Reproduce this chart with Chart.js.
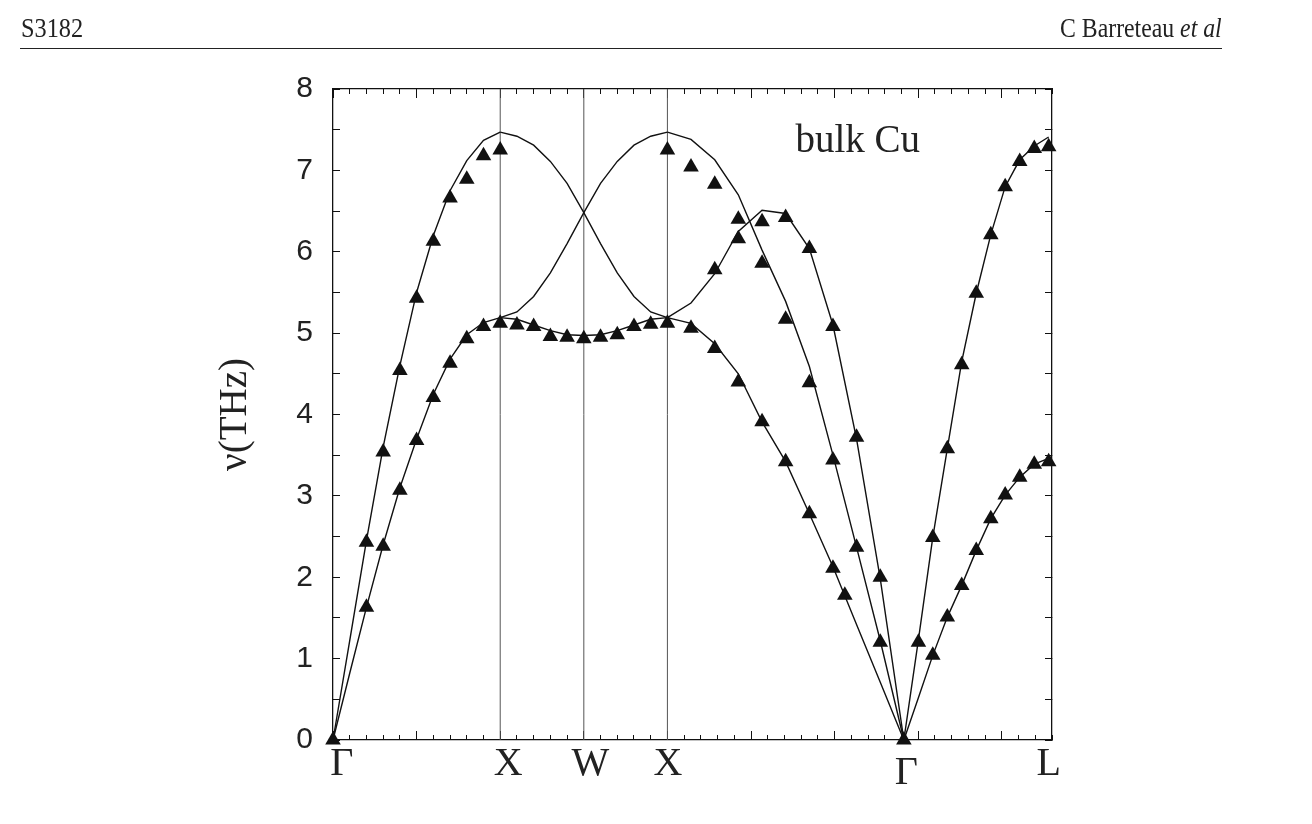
<!DOCTYPE html>
<html>
<head>
<meta charset="utf-8">
<title>bulk Cu phonons</title>
<script src="https://cdn.jsdelivr.net/npm/chart.js@4.4.1/dist/chart.umd.min.js"></script>
<style>
    html, body { margin: 0; padding: 0; background: #fff; }
    #wrap { position: relative; width: 1312px; height: 824px; overflow: hidden; }
    #chart { position: absolute; left: 0; top: 0; }
    .hdr { position: absolute; top: 15px; font-family: 'Liberation Serif', serif; font-size: 27px; line-height: 27px; color: #222; white-space: nowrap; }
    #hdr-left { left: 21px; transform: scaleX(0.9); transform-origin: left center; }
    #hdr-right { right: 90px; transform: scaleX(0.88); transform-origin: right center; }
    #rule { position: absolute; left: 20px; width: 1202px; top: 48px; height: 0; border-top: 1.5px solid #222; }
</style>
</head>
<body>
<div id="wrap">
    <canvas id="chart" width="1312" height="824"></canvas>
    <div class="hdr" id="hdr-left">S3182</div>
    <div class="hdr" id="hdr-right">C Barreteau <i>et al</i></div>
    <div id="rule"></div>
</div>
<script>
// Path labels (units of 2pi/a along G-X-W-X-G-L)
const symLabels = ['Γ', 'X', 'W', 'X', 'Γ', 'L'];
const symLabelPos = [0.052, 1.048, 1.539, 2.003, 3.429, 4.281];
const zoneLines = [1, 1.5, 2];
const panelLabel = 'bulk Cu';
const yTitle = 'ν(THz)';

// q positions of the sampled points on each segment
const qGX  = [0, 0.1, 0.2, 0.3, 0.4, 0.5, 0.6, 0.7, 0.8, 0.9, 1.0];
const qXWX = [1.0, 1.1, 1.2, 1.3, 1.4, 1.5, 1.6, 1.7, 1.8, 1.9, 2.0];
const qXG  = [2.0, 2.141, 2.283, 2.424, 2.566, 2.707, 2.849, 2.99, 3.131, 3.273, 3.414];
const qGL  = [3.414, 3.501, 3.587, 3.674, 3.76, 3.847, 3.934, 4.02, 4.107, 4.194, 4.28];

// calculated branches (solid lines), THz
const calcGX_L  = [0, 1.22, 2.45, 3.6, 4.6, 5.5, 6.2, 6.75, 7.12, 7.37, 7.47];
const calcGX_T  = [0, 0.82, 1.63, 2.4, 3.1, 3.7, 4.25, 4.68, 4.98, 5.13, 5.19];
const calcXWX_1 = [7.47, 7.42, 7.31, 7.11, 6.84, 6.48, 6.10, 5.74, 5.45, 5.26, 5.19];
const calcXWX_2 = [5.19, 5.26, 5.45, 5.74, 6.10, 6.48, 6.84, 7.11, 7.31, 7.42, 7.47];
const calcXWX_3 = [5.19, 5.17, 5.10, 5.03, 4.98, 4.97, 4.98, 5.03, 5.10, 5.17, 5.19];
const calcXG_1  = [7.47, 7.38, 7.13, 6.70, 6.02, 5.39, 4.59, 3.50, 2.37, 1.22, 0];
const calcXG_2  = [5.19, 5.37, 5.73, 6.25, 6.51, 6.47, 6.04, 5.10, 3.70, 1.98, 0];
const calcXG_3  = [5.19, 5.12, 4.87, 4.50, 3.91, 3.42, 2.78, 2.13, 1.42, 0.71, 0];
const calcGL_L  = [0, 1.23, 2.49, 3.58, 4.65, 5.49, 6.21, 6.80, 7.13, 7.30, 7.41];
const calcGL_T  = [0, 0.52, 1.04, 1.51, 1.90, 2.33, 2.72, 3.01, 3.23, 3.39, 3.46];

// measured points (triangles)
const expGX_Lq = [0, 0.2, 0.3, 0.4, 0.5, 0.6, 0.7, 0.8, 0.9, 1.0];
const expGX_L  = [0, 2.43, 3.54, 4.54, 5.43, 6.13, 6.66, 6.89, 7.18, 7.25];
const expGX_Tq = [0.2, 0.3, 0.4, 0.5, 0.6, 0.7, 0.8, 0.9, 1.0];
const expGX_T  = [1.63, 2.38, 3.07, 3.68, 4.21, 4.63, 4.93, 5.08, 5.12];
const expXWXq  = [1.1, 1.2, 1.3, 1.4, 1.5, 1.6, 1.7, 1.8, 1.9, 2.0];
const expXWX   = [5.10, 5.08, 4.96, 4.95, 4.93, 4.95, 4.98, 5.08, 5.11, 5.12];
const expXG_1q = [2.0, 2.141, 2.283, 2.424, 2.566, 2.707, 2.849, 2.99, 3.131, 3.273, 3.414];
const expXG_1  = [7.25, 7.04, 6.83, 6.40, 5.86, 5.17, 4.39, 3.44, 2.37, 1.20, 0];
const expXG_2q = [2.283, 2.424, 2.566, 2.707, 2.849, 2.99, 3.131, 3.273];
const expXG_2  = [5.78, 6.16, 6.37, 6.42, 6.04, 5.08, 3.72, 2.00];
const expXG_3q = [2.141, 2.283, 2.424, 2.566, 2.707, 2.849, 2.99, 3.061];
const expXG_3  = [5.06, 4.81, 4.40, 3.91, 3.42, 2.78, 2.11, 1.78];
const expGL_Lq = [3.501, 3.587, 3.674, 3.76, 3.847, 3.934, 4.02, 4.107, 4.194, 4.28];
const expGL_L  = [1.20, 2.49, 3.58, 4.61, 5.49, 6.21, 6.80, 7.11, 7.27, 7.29];
const expGL_Tq = [3.587, 3.674, 3.76, 3.847, 3.934, 4.02, 4.107, 4.194, 4.28];
const expGL_T  = [1.04, 1.51, 1.90, 2.33, 2.72, 3.01, 3.23, 3.39, 3.42];

const INK = '#111';

function toXY(q, v) {
    return q.map((x, i) => ({ x: x, y: v[i] }));
}

const datasets = [];

[[qGX, calcGX_L], [qGX, calcGX_T],
 [qXWX, calcXWX_1], [qXWX, calcXWX_2], [qXWX, calcXWX_3],
 [qXG, calcXG_1], [qXG, calcXG_2], [qXG, calcXG_3],
 [qGL, calcGL_L], [qGL, calcGL_T]].forEach(([q, v]) => {
    datasets.push({
        data: toXY(q, v),
        showLine: true,
        borderColor: INK,
        borderWidth: 1.4,
        pointRadius: 0,
        tension: 0,
        fill: false,
        order: 1
    });
});

[[expGX_Lq, expGX_L], [expGX_Tq, expGX_T], [expXWXq, expXWX],
 [expXG_1q, expXG_1], [expXG_2q, expXG_2], [expXG_3q, expXG_3],
 [expGL_Lq, expGL_L], [expGL_Tq, expGL_T]].forEach(([q, v]) => {
    datasets.push({
        data: toXY(q, v),
        showLine: false,
        pointStyle: 'triangle',
        pointRadius: 9,
        backgroundColor: INK,
        borderColor: INK,
        borderWidth: 0,
        order: 0
    });
});

// vertical lines at X, W, X
zoneLines.forEach(q => {
    datasets.push({
        data: [{ x: q, y: 0 }, { x: q, y: 8 }],
        showLine: true,
        borderColor: '#555',
        borderWidth: 1,
        pointRadius: 0,
        order: 2
    });
});

// inner tick marks only, no labels, zero size
function tickAxis(axis, position, step, len, border, max) {
    return {
        type: 'linear',
        axis: axis,
        position: position,
        min: 0,
        max: max,
        weight: 0,
        border: { display: border, color: INK, width: 1.3 },
        grid: { display: true, drawOnChartArea: false, drawTicks: true, tickLength: -len, color: INK, lineWidth: 1 },
        ticks: { display: false, stepSize: step, autoSkip: false, includeBounds: false },
        afterFit: (s) => { if (axis === 'x') s.height = 0; else s.width = 0; }
    };
}

const panelLabelPlugin = {
    id: 'panelLabel',
    afterDatasetsDraw(chart) {
        const { ctx, scales } = chart;
        ctx.save();
        ctx.font = '39px "Liberation Serif"';
        ctx.fillStyle = '#222';
        ctx.textAlign = 'left';
        ctx.textBaseline = 'alphabetic';
        ctx.fillText(panelLabel, scales.x.getPixelForValue(2.766), scales.y.getPixelForValue(7.23));
        ctx.restore();
    }
};

new Chart(document.getElementById('chart').getContext('2d'), {
    type: 'scatter',
    data: { datasets: datasets },
    options: {
        responsive: false,
        animation: false,
        clip: false,
        layout: { padding: { left: 0, right: 260, top: 89, bottom: 0 } },
        plugins: {
            legend: { display: false },
            tooltip: { enabled: false }
        },
        scales: {
            x: {
                type: 'linear',
                position: 'bottom',
                min: 0,
                max: 4.3,
                weight: 10,
                border: { display: true, color: INK, width: 1.3 },
                grid: { display: false, drawTicks: false },
                afterBuildTicks: (axis) => { axis.ticks = symLabelPos.map(v => ({ value: v })); },
                afterFit: (s) => { s.height = 84; },
                ticks: {
                    autoSkip: false,
                    maxRotation: 0,
                    minRotation: 0,
                    padding: 0,
                    color: '#222',
                    font: (c) => ({ family: 'Liberation Serif', size: 40, lineHeight: c.index === 4 ? 1.65 : 1.2 }),
                    callback: (value, index) => symLabels[index]
                }
            },
            xBotMinor: tickAxis('x', 'bottom', 0.1, 5, false, 4.3),
            xBotMajor: tickAxis('x', 'bottom', 0.5, 9, false, 4.3),
            xTopMinor: tickAxis('x', 'top', 0.1, 5, true, 4.3),
            xTopMajor: tickAxis('x', 'top', 0.5, 9, false, 4.3),
            yRight: tickAxis('y', 'right', 0.5, 7, true, 8),
            y: {
                type: 'linear',
                position: 'left',
                min: 0,
                max: 8,
                border: { display: true, color: INK, width: 1.3 },
                grid: { display: true, drawOnChartArea: false, drawTicks: true, tickLength: -7, color: INK, lineWidth: 1 },
                afterFit: (s) => { s.width = 333; },
                title: {
                    display: true,
                    text: yTitle,
                    color: '#222',
                    font: { family: 'Liberation Serif', size: 39 },
                    padding: { top: 212, bottom: 0 }
                },
                ticks: {
                    stepSize: 0.5,
                    autoSkip: false,
                    padding: 27,
                    color: '#222',
                    font: { family: 'Liberation Sans', size: 30 },
                    callback: (v) => Number.isInteger(v) ? String(v) : ''
                }
            }
        }
    },
    plugins: [panelLabelPlugin]
});
</script>
</body>
</html>
